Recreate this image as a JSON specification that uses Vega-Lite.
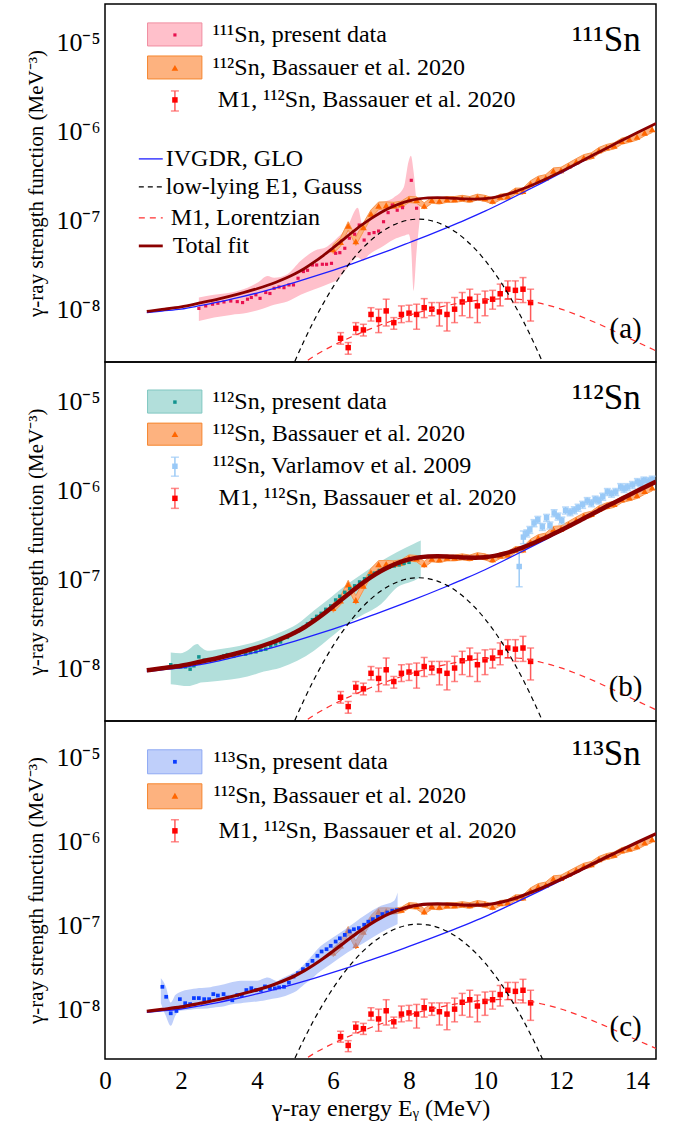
{
"$schema": "https://vega.github.io/schema/vega-lite/v6.json",
"padding": {"left": 24, "top": 2, "right": 22, "bottom": 0},
"background": "white",
"spacing": 0,
"bounds": "flush",
"config": {
  "font": "'Liberation Serif', 'Times New Roman', serif",
  "view": {"stroke": "black", "strokeWidth": 1.5},
  "axis": {"grid": false, "domain": false, "tickColor": "black", "tickWidth": 1, "labelColor": "black", "titleColor": "black", "titleFontWeight": "normal", "labelFont": "'Liberation Serif', 'Times New Roman', serif", "titleFont": "'Liberation Serif', 'Times New Roman', serif"},
  "text": {"font": "'Liberation Serif', 'Times New Roman', serif"}
},
"datasets": {
  "fit": [
    {"c":"glo","E":1.1,"v":9.33e-9},{"c":"glo","E":1.5,"v":9.73e-9},{"c":"glo","E":2,"v":1.023e-8},{"c":"glo","E":2.5,"v":1.117e-8},{"c":"glo","E":3,"v":1.23e-8},{"c":"glo","E":3.5,"v":1.374e-8},{"c":"glo","E":4,"v":1.549e-8},{"c":"glo","E":4.5,"v":1.77e-8},{"c":"glo","E":5,"v":2.042e-8},{"c":"glo","E":5.5,"v":2.377e-8},{"c":"glo","E":6,"v":2.786e-8},{"c":"glo","E":6.5,"v":3.296e-8},{"c":"glo","E":7,"v":3.936e-8},{"c":"glo","E":7.5,"v":4.71e-8},{"c":"glo","E":8,"v":5.689e-8},{"c":"glo","E":8.5,"v":6.887e-8},{"c":"glo","E":9,"v":8.414e-8},{"c":"glo","E":9.5,"v":1.035e-7},{"c":"glo","E":10,"v":1.288e-7},{"c":"glo","E":10.5,"v":1.633e-7},{"c":"glo","E":11,"v":2.089e-7},{"c":"glo","E":11.5,"v":2.679e-7},{"c":"glo","E":12,"v":3.467e-7},{"c":"glo","E":12.5,"v":4.508e-7},{"c":"glo","E":13,"v":5.888e-7},{"c":"glo","E":13.5,"v":7.586e-7},{"c":"glo","E":14,"v":9.772e-7},{"c":"glo","E":14.5,"v":1.245e-6},
    {"c":"gauss","E":4.9,"v":2.13e-9},{"c":"gauss","E":5.0,"v":2.67e-9},{"c":"gauss","E":5.25,"v":4.6e-9},{"c":"gauss","E":5.5,"v":7.59e-9},{"c":"gauss","E":5.75,"v":1.194e-8},{"c":"gauss","E":6.0,"v":1.807e-8},{"c":"gauss","E":6.25,"v":2.612e-8},{"c":"gauss","E":6.5,"v":3.614e-8},{"c":"gauss","E":6.75,"v":4.797e-8},{"c":"gauss","E":7.0,"v":6.081e-8},{"c":"gauss","E":7.25,"v":7.396e-8},{"c":"gauss","E":7.5,"v":8.61e-8},{"c":"gauss","E":7.75,"v":9.594e-8},{"c":"gauss","E":8.0,"v":1.0257e-7},{"c":"gauss","E":8.25,"v":1.0471e-7},{"c":"gauss","E":8.5,"v":1.0257e-7},{"c":"gauss","E":8.75,"v":9.594e-8},{"c":"gauss","E":9.0,"v":8.61e-8},{"c":"gauss","E":9.25,"v":7.396e-8},{"c":"gauss","E":9.5,"v":6.081e-8},{"c":"gauss","E":9.75,"v":4.797e-8},{"c":"gauss","E":10.0,"v":3.614e-8},{"c":"gauss","E":10.25,"v":2.612e-8},{"c":"gauss","E":10.5,"v":1.807e-8},{"c":"gauss","E":10.75,"v":1.194e-8},{"c":"gauss","E":11.0,"v":7.59e-9},{"c":"gauss","E":11.25,"v":4.6e-9},{"c":"gauss","E":11.5,"v":2.67e-9},{"c":"gauss","E":11.6,"v":2.13e-9},
    {"c":"m1","E":5.1,"v":2.3e-9},{"c":"m1","E":5.5,"v":3.02e-9},{"c":"m1","E":6,"v":3.98e-9},{"c":"m1","E":6.5,"v":5.01e-9},{"c":"m1","E":7,"v":6.17e-9},{"c":"m1","E":7.5,"v":7.41e-9},{"c":"m1","E":8,"v":8.71e-9},{"c":"m1","E":8.5,"v":1.0e-8},{"c":"m1","E":9,"v":1.122e-8},{"c":"m1","E":9.5,"v":1.23e-8},{"c":"m1","E":10,"v":1.303e-8},{"c":"m1","E":10.5,"v":1.334e-8},{"c":"m1","E":11,"v":1.303e-8},{"c":"m1","E":11.5,"v":1.175e-8},{"c":"m1","E":12,"v":1.023e-8},{"c":"m1","E":12.5,"v":8.51e-9},{"c":"m1","E":13,"v":6.92e-9},{"c":"m1","E":13.5,"v":5.5e-9},{"c":"m1","E":14,"v":4.37e-9},{"c":"m1","E":14.5,"v":3.47e-9},
    {"c":"total","E":1.1,"v":9.63e-9},{"c":"total","E":1.5,"v":1.013e-8},{"c":"total","E":2,"v":1.083e-8},{"c":"total","E":2.5,"v":1.197e-8},{"c":"total","E":3,"v":1.33e-8},{"c":"total","E":3.5,"v":1.504e-8},{"c":"total","E":4,"v":1.729e-8},{"c":"total","E":4.5,"v":2.049e-8},{"c":"total","E":5,"v":2.549e-8},{"c":"total","E":5.25,"v":2.923e-8},{"c":"total","E":5.5,"v":3.438e-8},{"c":"total","E":5.75,"v":4.111e-8},{"c":"total","E":6,"v":4.991e-8},{"c":"total","E":6.25,"v":6.086e-8},{"c":"total","E":6.5,"v":7.411e-8},{"c":"total","E":6.75,"v":8.95e-8},{"c":"total","E":7,"v":1.063e-7},{"c":"total","E":7.25,"v":1.238e-7},{"c":"total","E":7.5,"v":1.406e-7},{"c":"total","E":7.75,"v":1.557e-7},{"c":"total","E":8,"v":1.682e-7},{"c":"total","E":8.25,"v":1.766e-7},{"c":"total","E":8.5,"v":1.814e-7},{"c":"total","E":8.75,"v":1.826e-7},{"c":"total","E":9,"v":1.815e-7},{"c":"total","E":9.25,"v":1.79e-7},{"c":"total","E":9.5,"v":1.766e-7},{"c":"total","E":9.75,"v":1.76e-7},{"c":"total","E":10,"v":1.78e-7},{"c":"total","E":10.25,"v":1.842e-7},{"c":"total","E":10.5,"v":1.947e-7},{"c":"total","E":10.75,"v":2.097e-7},{"c":"total","E":11,"v":2.296e-7},{"c":"total","E":11.25,"v":2.537e-7},{"c":"total","E":11.5,"v":2.823e-7},{"c":"total","E":11.75,"v":3.172e-7},{"c":"total","E":12,"v":3.577e-7},{"c":"total","E":12.5,"v":4.593e-7},{"c":"total","E":13,"v":5.957e-7},{"c":"total","E":13.5,"v":7.641e-7},{"c":"total","E":14,"v":9.816e-7},{"c":"total","E":14.5,"v":1.248e-6}
  ],
  "bass": [
    {"E":6.0,"v":4.8e-8,"lo":4.3e-8,"hi":5.4e-8},{"E":6.2,"v":5.8e-8,"lo":5.2e-8,"hi":6.5e-8},{"E":6.4,"v":8.8e-8,"lo":7.9e-8,"hi":9.8e-8},{"E":6.6,"v":5.9e-8,"lo":5.3e-8,"hi":6.6e-8},{"E":6.8,"v":8.5e-8,"lo":7.6e-8,"hi":9.5e-8},{"E":7.0,"v":1.2e-7,"lo":1.08e-7,"hi":1.33e-7},{"E":7.2,"v":1.48e-7,"lo":1.34e-7,"hi":1.63e-7},{"E":7.4,"v":1.5e-7,"lo":1.37e-7,"hi":1.64e-7},{"E":7.6,"v":1.5e-7,"lo":1.38e-7,"hi":1.62e-7},{"E":7.8,"v":1.55e-7,"lo":1.43e-7,"hi":1.67e-7},{"E":8.0,"v":1.75e-7,"lo":1.61e-7,"hi":1.89e-7},{"E":8.2,"v":1.72e-7,"lo":1.58e-7,"hi":1.86e-7},{"E":8.4,"v":1.48e-7,"lo":1.37e-7,"hi":1.6e-7},{"E":8.6,"v":1.71e-7,"lo":1.58e-7,"hi":1.84e-7},{"E":8.8,"v":1.68e-7,"lo":1.55e-7,"hi":1.81e-7},{"E":9.0,"v":1.75e-7,"lo":1.62e-7,"hi":1.88e-7},{"E":9.2,"v":1.75e-7,"lo":1.62e-7,"hi":1.88e-7},{"E":9.4,"v":1.8e-7,"lo":1.66e-7,"hi":1.94e-7},{"E":9.6,"v":1.75e-7,"lo":1.62e-7,"hi":1.88e-7},{"E":9.8,"v":1.86e-7,"lo":1.72e-7,"hi":2.0e-7},{"E":10.0,"v":1.8e-7,"lo":1.66e-7,"hi":1.94e-7},{"E":10.2,"v":1.68e-7,"lo":1.55e-7,"hi":1.81e-7},{"E":10.4,"v":1.86e-7,"lo":1.72e-7,"hi":2.0e-7},{"E":10.6,"v":1.9e-7,"lo":1.75e-7,"hi":2.05e-7},{"E":10.8,"v":2.17e-7,"lo":2.0e-7,"hi":2.34e-7},{"E":11.0,"v":2.17e-7,"lo":2.0e-7,"hi":2.34e-7},{"E":11.2,"v":2.62e-7,"lo":2.41e-7,"hi":2.83e-7},{"E":11.4,"v":2.94e-7,"lo":2.7e-7,"hi":3.18e-7},{"E":11.6,"v":3.07e-7,"lo":2.82e-7,"hi":3.32e-7},{"E":11.8,"v":3.65e-7,"lo":3.36e-7,"hi":3.94e-7},{"E":12.0,"v":3.71e-7,"lo":3.41e-7,"hi":4.01e-7},{"E":12.2,"v":4.15e-7,"lo":3.82e-7,"hi":4.48e-7},{"E":12.4,"v":4.64e-7,"lo":4.27e-7,"hi":5.01e-7},{"E":12.6,"v":5.15e-7,"lo":4.74e-7,"hi":5.56e-7},{"E":12.8,"v":5.4e-7,"lo":4.97e-7,"hi":5.83e-7},{"E":13.0,"v":6.2e-7,"lo":5.7e-7,"hi":6.7e-7},{"E":13.2,"v":6.7e-7,"lo":6.16e-7,"hi":7.24e-7},{"E":13.4,"v":7.0e-7,"lo":6.44e-7,"hi":7.56e-7},{"E":13.6,"v":7.9e-7,"lo":7.27e-7,"hi":8.53e-7},{"E":13.8,"v":8.3e-7,"lo":7.64e-7,"hi":8.96e-7},{"E":14.0,"v":8.8e-7,"lo":8.1e-7,"hi":9.5e-7},{"E":14.2,"v":9.8e-7,"lo":9.02e-7,"hi":1.058e-6},{"E":14.4,"v":1.07e-6,"lo":9.84e-7,"hi":1.156e-6}
  ],
  "m1": [
    {"E":6.2,"v":4.8e-9,"lo":4.12e-9,"hi":5.56e-9},{"E":6.4,"v":3.77e-9,"lo":3.18e-9,"hi":4.3e-9},{"E":6.6,"v":6.2e-9,"lo":5.3e-9,"hi":7.2e-9},{"E":6.8,"v":5.96e-9,"lo":5.1e-9,"hi":6.9e-9},{"E":7.0,"v":8.9e-9,"lo":7.5e-9,"hi":1.06e-8},{"E":7.2,"v":7.8e-9,"lo":5.56e-9,"hi":1.02e-8},{"E":7.4,"v":9.75e-9,"lo":6.6e-9,"hi":1.32e-8},{"E":7.6,"v":7.2e-9,"lo":6.07e-9,"hi":8.2e-9},{"E":7.8,"v":8.9e-9,"lo":7.2e-9,"hi":1.11e-8},{"E":8.0,"v":9.2e-9,"lo":7.4e-9,"hi":1.13e-8},{"E":8.2,"v":8.9e-9,"lo":6.07e-9,"hi":1.16e-8},{"E":8.4,"v":1.06e-8,"lo":8.2e-9,"hi":1.34e-8},{"E":8.6,"v":1.02e-8,"lo":8.6e-9,"hi":1.21e-8},{"E":8.8,"v":9.5e-9,"lo":6.6e-9,"hi":1.21e-8},{"E":9.0,"v":8.9e-9,"lo":5.8e-9,"hi":1.21e-8},{"E":9.2,"v":1.02e-8,"lo":7.2e-9,"hi":1.38e-8},{"E":9.4,"v":1.23e-8,"lo":8.6e-9,"hi":1.57e-8},{"E":9.6,"v":1.32e-8,"lo":8.2e-9,"hi":1.71e-8},{"E":9.8,"v":1.11e-8,"lo":7.2e-9,"hi":1.5e-8},{"E":10.0,"v":1.26e-8,"lo":8.6e-9,"hi":1.63e-8},{"E":10.2,"v":1.32e-8,"lo":1.02e-8,"hi":1.66e-8},{"E":10.4,"v":1.52e-8,"lo":1.11e-8,"hi":1.95e-8},{"E":10.6,"v":1.71e-8,"lo":1.32e-8,"hi":2.12e-8},{"E":10.8,"v":1.66e-8,"lo":1.21e-8,"hi":2.12e-8},{"E":11.0,"v":1.71e-8,"lo":1.21e-8,"hi":2.31e-8},{"E":11.2,"v":1.21e-8,"lo":7.5e-9,"hi":1.71e-8}
  ],
  "p111": [
    {"E":2.47,"v":1.04e-8},{"E":2.65,"v":1.11e-8},{"E":2.83,"v":1.16e-8},{"E":2.97,"v":1.19e-8},{"E":3.13,"v":1.23e-8},{"E":3.31,"v":1.26e-8},{"E":3.48,"v":1.24e-8},{"E":3.62,"v":1.21e-8},{"E":3.75,"v":1.32e-8},{"E":3.85,"v":1.38e-8},{"E":3.97,"v":1.48e-8},{"E":4.08,"v":1.35e-8},{"E":4.23,"v":1.57e-8},{"E":4.34,"v":1.53e-8},{"E":4.45,"v":1.75e-8},{"E":4.58,"v":1.81e-8},{"E":4.71,"v":1.78e-8},{"E":4.84,"v":1.91e-8},{"E":4.96,"v":1.91e-8},{"E":5.08,"v":2.27e-8},{"E":5.22,"v":2.7e-8},{"E":5.33,"v":2.79e-8},{"E":5.46,"v":3.2e-8},{"E":5.57,"v":3.2e-8},{"E":5.72,"v":3.26e-8},{"E":5.83,"v":3.26e-8},{"E":5.96,"v":3.34e-8},{"E":6.07,"v":4.33e-8},{"E":6.18,"v":4.4e-8},{"E":6.31,"v":4.93e-8},{"E":6.43,"v":6.4e-8},{"E":6.57,"v":7.1e-8},{"E":6.69,"v":9.0e-8},{"E":6.82,"v":6.1e-8},{"E":6.95,"v":7.2e-8},{"E":7.08,"v":7.4e-8},{"E":7.2,"v":7.7e-8},{"E":7.33,"v":9.8e-8},{"E":7.45,"v":1.24e-7},{"E":7.56,"v":1.51e-7},{"E":7.69,"v":1.32e-7},{"E":7.83,"v":1.41e-7},{"E":8.06,"v":2.86e-7},{"E":8.2,"v":1.39e-7}
  ],
  "b111": [
    {"E":2.47,"lo":7.5e-9,"hi":1.38e-8},{"E":2.87,"lo":8.2e-9,"hi":1.48e-8},{"E":3.31,"lo":8.8e-9,"hi":1.57e-8},{"E":3.75,"lo":9.3e-9,"hi":1.78e-8},{"E":4.02,"lo":9.9e-9,"hi":2.03e-8},{"E":4.28,"lo":1.08e-8,"hi":2.41e-8},{"E":4.45,"lo":1.14e-8,"hi":2.3e-8},{"E":4.8,"lo":1.24e-8,"hi":2.52e-8},{"E":5.15,"lo":1.48e-8,"hi":3.56e-8},{"E":5.5,"lo":1.7e-8,"hi":4.6e-8},{"E":5.86,"lo":1.95e-8,"hi":5.2e-8},{"E":6.12,"lo":2.2e-8,"hi":6.5e-8},{"E":6.39,"lo":3.0e-8,"hi":8.8e-8},{"E":6.65,"lo":3.9e-8,"hi":1.41e-7},{"E":6.78,"lo":3.56e-8,"hi":9.2e-8},{"E":6.95,"lo":4.2e-8,"hi":1.14e-7},{"E":7.25,"lo":5.0e-8,"hi":1.54e-7},{"E":7.6,"lo":6.2e-8,"hi":1.83e-7},{"E":7.86,"lo":6.8e-8,"hi":2.37e-7},{"E":7.99,"lo":7.1e-8,"hi":4.7e-7},{"E":8.05,"lo":5.5e-8,"hi":5.4e-7},{"E":8.12,"lo":1.63e-8,"hi":3.6e-7},{"E":8.2,"lo":4.6e-8,"hi":1.75e-7},{"E":8.29,"lo":1.09e-7,"hi":1.54e-7}
  ],
  "p112": [
    {"E":1.73,"v":1.11e-8},{"E":1.86,"v":1.07e-8},{"E":1.99,"v":1.05e-8},{"E":2.12,"v":1.05e-8},{"E":2.24,"v":9.9e-9},{"E":2.34,"v":1.08e-8},{"E":2.47,"v":1.36e-8},{"E":2.61,"v":1.25e-8},{"E":2.74,"v":1.24e-8},{"E":2.87,"v":1.27e-8},{"E":3.0,"v":1.32e-8},{"E":3.13,"v":1.4e-8},{"E":3.22,"v":1.44e-8},{"E":3.39,"v":1.38e-8},{"E":3.53,"v":1.46e-8},{"E":3.7,"v":1.46e-8},{"E":3.83,"v":1.52e-8},{"E":3.97,"v":1.55e-8},{"E":4.1,"v":1.62e-8},{"E":4.23,"v":1.66e-8},{"E":4.36,"v":1.8e-8},{"E":4.49,"v":1.9e-8},{"E":4.62,"v":2.0e-8},{"E":4.8,"v":2.25e-8},{"E":4.96,"v":2.5e-8},{"E":5.09,"v":2.67e-8},{"E":5.22,"v":2.91e-8},{"E":5.33,"v":3.18e-8},{"E":5.46,"v":3.55e-8},{"E":5.57,"v":3.87e-8},{"E":5.69,"v":4.18e-8},{"E":5.81,"v":4.64e-8},{"E":5.94,"v":5.06e-8},{"E":6.07,"v":5.9e-8},{"E":6.18,"v":6.5e-8},{"E":6.31,"v":7.2e-8},{"E":6.44,"v":7.9e-8},{"E":6.57,"v":8.5e-8},{"E":6.7,"v":9.4e-8},{"E":6.83,"v":1.02e-7},{"E":6.96,"v":1.1e-7},{"E":7.09,"v":1.18e-7},{"E":7.22,"v":1.26e-7},{"E":7.35,"v":1.32e-7},{"E":7.48,"v":1.38e-7},{"E":7.61,"v":1.42e-7},{"E":7.74,"v":1.46e-7},{"E":7.87,"v":1.52e-7},{"E":8.0,"v":1.56e-7}
  ],
  "b112": [
    {"E":1.73,"lo":6.7e-9,"hi":1.52e-8},{"E":1.99,"lo":6.5e-9,"hi":1.49e-8},{"E":2.17,"lo":6.4e-9,"hi":1.6e-8},{"E":2.43,"lo":6.8e-9,"hi":1.89e-8},{"E":2.52,"lo":7.0e-9,"hi":1.75e-8},{"E":2.69,"lo":7.1e-9,"hi":1.59e-8},{"E":2.96,"lo":7.3e-9,"hi":1.65e-8},{"E":3.31,"lo":7.6e-9,"hi":1.73e-8},{"E":3.75,"lo":8.2e-9,"hi":1.89e-8},{"E":4.18,"lo":9.3e-9,"hi":2.15e-8},{"E":4.62,"lo":1.03e-8,"hi":2.56e-8},{"E":5.06,"lo":1.23e-8,"hi":3.18e-8},{"E":5.5,"lo":1.59e-8,"hi":4.5e-8},{"E":5.94,"lo":2.25e-8,"hi":6.3e-8},{"E":6.38,"lo":3.18e-8,"hi":8.9e-8},{"E":6.82,"lo":4.1e-8,"hi":1.2e-7},{"E":7.26,"lo":5.3e-8,"hi":1.6e-7},{"E":7.69,"lo":8.2e-8,"hi":2.03e-7},{"E":8.13,"lo":9.7e-8,"hi":2.52e-7},{"E":8.31,"lo":1.06e-7,"hi":2.74e-7}
  ],
  "varl": [
    {"E":10.9,"v":1.4e-7,"lo":8.3e-8,"hi":2.08e-7},{"E":11.01,"v":2.99e-7,"lo":2.52e-7,"hi":3.5e-7},{"E":11.1,"v":3.3e-7,"lo":3.0e-7,"hi":3.6e-7},{"E":11.18,"v":3.61e-7,"lo":3.29e-7,"hi":3.93e-7},{"E":11.29,"v":4.3e-7,"lo":3.91e-7,"hi":4.69e-7},{"E":11.39,"v":4.68e-7,"lo":4.26e-7,"hi":5.1e-7},{"E":11.51,"v":3.9e-7,"lo":3.55e-7,"hi":4.25e-7},{"E":11.62,"v":4.93e-7,"lo":4.49e-7,"hi":5.37e-7},{"E":11.71,"v":4.05e-7,"lo":3.69e-7,"hi":4.41e-7},{"E":11.82,"v":5.56e-7,"lo":5.06e-7,"hi":6.06e-7},{"E":11.92,"v":5.1e-7,"lo":4.64e-7,"hi":5.56e-7},{"E":12.02,"v":4.6e-7,"lo":4.19e-7,"hi":5.01e-7},{"E":12.12,"v":5.96e-7,"lo":5.42e-7,"hi":6.5e-7},{"E":12.24,"v":5.7e-7,"lo":5.19e-7,"hi":6.21e-7},{"E":12.35,"v":6.0e-7,"lo":5.46e-7,"hi":6.54e-7},{"E":12.45,"v":6.4e-7,"lo":5.82e-7,"hi":6.98e-7},{"E":12.57,"v":6.9e-7,"lo":6.28e-7,"hi":7.52e-7},{"E":12.69,"v":7.6e-7,"lo":6.92e-7,"hi":8.28e-7},{"E":12.8,"v":7.2e-7,"lo":6.55e-7,"hi":7.85e-7},{"E":12.9,"v":7.9e-7,"lo":7.19e-7,"hi":8.61e-7},{"E":13.0,"v":7.7e-7,"lo":7.01e-7,"hi":8.39e-7},{"E":13.1,"v":8.5e-7,"lo":7.74e-7,"hi":9.27e-7},{"E":13.22,"v":9.6e-7,"lo":8.74e-7,"hi":1.046e-6},{"E":13.33,"v":9.2e-7,"lo":8.37e-7,"hi":1.003e-6},{"E":13.44,"v":9.6e-7,"lo":8.74e-7,"hi":1.046e-6},{"E":13.57,"v":1.09e-6,"lo":9.92e-7,"hi":1.188e-6},{"E":13.66,"v":1.04e-6,"lo":9.46e-7,"hi":1.134e-6},{"E":13.75,"v":1.09e-6,"lo":9.92e-7,"hi":1.188e-6},{"E":13.88,"v":1.15e-6,"lo":1.047e-6,"hi":1.254e-6},{"E":14.01,"v":1.24e-6,"lo":1.128e-6,"hi":1.352e-6},{"E":14.1,"v":1.2e-6,"lo":1.092e-6,"hi":1.308e-6},{"E":14.18,"v":1.29e-6,"lo":1.174e-6,"hi":1.406e-6},{"E":14.3,"v":1.27e-6,"lo":1.156e-6,"hi":1.384e-6},{"E":14.4,"v":1.32e-6,"lo":1.201e-6,"hi":1.439e-6}
  ],
  "p113": [
    {"E":1.51,"v":1.88e-8},{"E":1.61,"v":1.43e-8},{"E":1.73,"v":9.1e-9},{"E":1.88,"v":9.7e-9},{"E":1.97,"v":1.34e-8},{"E":2.11,"v":1.2e-8},{"E":2.24,"v":1.17e-8},{"E":2.34,"v":1.38e-8},{"E":2.47,"v":1.38e-8},{"E":2.61,"v":1.34e-8},{"E":2.74,"v":1.34e-8},{"E":2.85,"v":1.54e-8},{"E":2.97,"v":1.48e-8},{"E":3.12,"v":1.54e-8},{"E":3.22,"v":1.4e-8},{"E":3.35,"v":1.3e-8},{"E":3.48,"v":1.5e-8},{"E":3.6,"v":1.5e-8},{"E":3.72,"v":1.72e-8},{"E":3.85,"v":1.81e-8},{"E":3.97,"v":1.72e-8},{"E":4.1,"v":1.72e-8},{"E":4.21,"v":1.9e-8},{"E":4.34,"v":1.8e-8},{"E":4.47,"v":1.8e-8},{"E":4.58,"v":1.85e-8},{"E":4.71,"v":1.88e-8},{"E":4.84,"v":2.11e-8},{"E":4.96,"v":2.49e-8},{"E":5.08,"v":2.73e-8},{"E":5.21,"v":3.05e-8},{"E":5.33,"v":3.43e-8},{"E":5.46,"v":3.83e-8},{"E":5.59,"v":4.4e-8},{"E":5.7,"v":4.95e-8},{"E":5.83,"v":5.27e-8},{"E":5.94,"v":5.78e-8},{"E":6.07,"v":6.5e-8},{"E":6.18,"v":7.1e-8},{"E":6.31,"v":7.8e-8},{"E":6.44,"v":8.6e-8},{"E":6.55,"v":9.1e-8},{"E":6.68,"v":9.4e-8},{"E":6.82,"v":1.03e-7},{"E":6.93,"v":1.12e-7},{"E":7.05,"v":1.2e-7},{"E":7.18,"v":1.28e-7},{"E":7.3,"v":1.38e-7},{"E":7.43,"v":1.44e-7},{"E":7.56,"v":1.51e-7},{"E":7.68,"v":1.54e-7}
  ],
  "b113": [
    {"E":1.47,"lo":1.2e-8,"hi":2.38e-8},{"E":1.6,"lo":8.5e-9,"hi":1.9e-8},{"E":1.73,"lo":6.45e-9,"hi":1.22e-8},{"E":1.85,"lo":8.5e-9,"hi":1.5e-8},{"E":1.95,"lo":9.7e-9,"hi":1.61e-8},{"E":2.26,"lo":1.0e-8,"hi":1.76e-8},{"E":2.4,"lo":1.02e-8,"hi":1.8e-8},{"E":2.7,"lo":1.04e-8,"hi":1.84e-8},{"E":2.84,"lo":1.06e-8,"hi":1.9e-8},{"E":3.14,"lo":1.1e-8,"hi":2.02e-8},{"E":3.28,"lo":1.15e-8,"hi":2.1e-8},{"E":3.58,"lo":1.2e-8,"hi":2.22e-8},{"E":3.72,"lo":1.22e-8,"hi":2.22e-8},{"E":4.01,"lo":1.26e-8,"hi":2.22e-8},{"E":4.16,"lo":1.28e-8,"hi":2.35e-8},{"E":4.28,"lo":1.32e-8,"hi":2.43e-8},{"E":4.54,"lo":1.38e-8,"hi":2.2e-8},{"E":4.6,"lo":1.4e-8,"hi":2.3e-8},{"E":4.89,"lo":1.55e-8,"hi":2.66e-8},{"E":5.04,"lo":1.68e-8,"hi":2.9e-8},{"E":5.24,"lo":2.0e-8,"hi":3.5e-8},{"E":5.48,"lo":2.43e-8,"hi":4.6e-8},{"E":5.59,"lo":2.7e-8,"hi":5.27e-8},{"E":5.94,"lo":3.5e-8,"hi":6.95e-8},{"E":6.38,"lo":4.8e-8,"hi":9.5e-8},{"E":6.82,"lo":6.3e-8,"hi":1.32e-7},{"E":7.26,"lo":8.3e-8,"hi":1.73e-7},{"E":7.61,"lo":1.0e-7,"hi":1.99e-7},{"E":7.7,"lo":1.05e-7,"hi":2.49e-7}
  ]
},
"vconcat": [
{
  "width": 551, "height": 358,
  "layer": [
    {"data": {"name": "b111"}, "mark": {"type": "area", "fill": "#ffc0cb", "interpolate": "monotone", "clip": true},
     "encoding": {
       "x": {"field": "E", "type": "quantitative", "scale": {"domain": [0, 14.5], "nice": false, "zero": false},
             "axis": {"values": [0,0.5,1,1.5,2,2.5,3,3.5,4,4.5,5,5.5,6,6.5,7,7.5,8,8.5,9,9.5,10,10.5,11,11.5,12,12.5,13,13.5,14], "labels": false, "title": null, "tickSize": 0,
                      "encode": {"ticks": {"update": {"y2": {"signal": "datum.value % 2 == 0 ? -13 : -7"}}}}}},
       "y": {"field": "lo", "type": "quantitative", "scale": {"type": "log", "domain": [2.6e-9, 2.74e-5], "nice": false},
             "axis": {"title": "γ-ray strength function (MeV⁻³)", "titleFontSize": 21, "titleX": -69, "titleBaseline": "middle",
                      "values": [3e-9,4e-9,5e-9,6e-9,7e-9,8e-9,9e-9,1e-8,2e-8,3e-8,4e-8,5e-8,6e-8,7e-8,8e-8,9e-8,1e-7,2e-7,3e-7,4e-7,5e-7,6e-7,7e-7,8e-7,9e-7,1e-6,2e-6,3e-6,4e-6,5e-6,6e-6,7e-6,8e-6,9e-6,1e-5,2e-5],
                      "labelExpr": "abs(log(datum.value)/LN10 - round(log(datum.value)/LN10)) < 0.01 ? (round(log(datum.value)/LN10) == -5 ? '10⁻⁵' : round(log(datum.value)/LN10) == -6 ? '10⁻⁶' : round(log(datum.value)/LN10) == -7 ? '10⁻⁷' : '10⁻⁸') : ''",
                      "labelFontSize": 26, "labelPadding": 5, "labelOverlap": false, "tickSize": 0,
                      "encode": {"ticks": {"update": {"x2": {"signal": "abs(log(datum.value)/LN10 - round(log(datum.value)/LN10)) < 0.01 ? 13 : 7"}}}}}},
       "y2": {"field": "hi"}
     }},
    {"data": {"name": "bass"}, "mark": {"type": "area", "fill": "#fdb27f", "stroke": "#f7964f", "strokeWidth": 1, "clip": true},
     "encoding": {"x": {"field": "E", "type": "quantitative"}, "y": {"field": "lo", "type": "quantitative"}, "y2": {"field": "hi"}}},
    {"data": {"name": "bass"}, "mark": {"type": "point", "shape": "triangle-up", "filled": true, "color": "#ff6600", "size": 45, "opacity": 1, "clip": true},
     "encoding": {"x": {"field": "E", "type": "quantitative"}, "y": {"field": "v", "type": "quantitative"}}},
    {"data": {"name": "p111"}, "mark": {"type": "point", "shape": "square", "filled": true, "color": "#e8114f", "size": 10, "opacity": 1, "clip": true},
     "encoding": {"x": {"field": "E", "type": "quantitative"}, "y": {"field": "v", "type": "quantitative"}}},
    {"data": {"name": "m1"}, "mark": {"type": "rule", "color": "#ff5a5a", "strokeWidth": 1.5, "clip": true},
     "encoding": {"x": {"field": "E", "type": "quantitative"}, "y": {"field": "lo", "type": "quantitative"}, "y2": {"field": "hi"}}},
    {"data": {"name": "m1"}, "mark": {"type": "tick", "orient": "horizontal", "color": "#ff5a5a", "size": 7, "thickness": 1.5, "clip": true},
     "encoding": {"x": {"field": "E", "type": "quantitative"}, "y": {"field": "lo", "type": "quantitative"}}},
    {"data": {"name": "m1"}, "mark": {"type": "tick", "orient": "horizontal", "color": "#ff5a5a", "size": 7, "thickness": 1.5, "clip": true},
     "encoding": {"x": {"field": "E", "type": "quantitative"}, "y": {"field": "hi", "type": "quantitative"}}},
    {"data": {"name": "m1"}, "mark": {"type": "point", "shape": "square", "filled": true, "color": "#ff0000", "size": 30, "opacity": 1, "clip": true},
     "encoding": {"x": {"field": "E", "type": "quantitative"}, "y": {"field": "v", "type": "quantitative"}}},
    {"data": {"name": "fit"}, "transform": [{"filter": "datum.c == 'glo'"}], "mark": {"type": "line", "color": "#1e1eff", "strokeWidth": 1.3, "interpolate": "monotone", "clip": true},
     "encoding": {"x": {"field": "E", "type": "quantitative"}, "y": {"field": "v", "type": "quantitative"}}},
    {"data": {"name": "fit"}, "transform": [{"filter": "datum.c == 'gauss'"}], "mark": {"type": "line", "color": "black", "strokeWidth": 1.2, "strokeDash": [5, 4], "interpolate": "monotone", "clip": true},
     "encoding": {"x": {"field": "E", "type": "quantitative"}, "y": {"field": "v", "type": "quantitative"}}},
    {"data": {"name": "fit"}, "transform": [{"filter": "datum.c == 'm1'"}], "mark": {"type": "line", "color": "#ff3030", "strokeWidth": 1.2, "strokeDash": [6, 5], "interpolate": "monotone", "clip": true},
     "encoding": {"x": {"field": "E", "type": "quantitative"}, "y": {"field": "v", "type": "quantitative"}}},
    {"data": {"name": "fit"}, "transform": [{"filter": "datum.c == 'total'"}], "mark": {"type": "line", "color": "#8b0000", "strokeWidth": 2.8, "interpolate": "monotone", "clip": true},
     "encoding": {"x": {"field": "E", "type": "quantitative"}, "y": {"field": "v", "type": "quantitative"}}},
    {"data": {"values": [{}]}, "mark": {"type": "rect", "fill": "#ffc0cb", "stroke": "#f08ca0", "strokeWidth": 1},
     "encoding": {"x": {"datum": 1.12, "type": "quantitative"}, "x2": {"datum": 2.55}, "y": {"datum": 1.68e-5, "type": "quantitative"}, "y2": {"datum": 9.25e-6}}},
    {"data": {"values": [{}]}, "mark": {"type": "point", "shape": "square", "filled": true, "color": "#e8114f", "size": 10, "opacity": 1},
     "encoding": {"x": {"datum": 1.84, "type": "quantitative"}, "y": {"datum": 1.23e-5, "type": "quantitative"}}},
    {"data": {"values": [{}]}, "mark": {"type": "rect", "fill": "#fdb27f", "stroke": "#f5862f", "strokeWidth": 1},
     "encoding": {"x": {"datum": 1.12, "type": "quantitative"}, "x2": {"datum": 2.55}, "y": {"datum": 7.14e-6, "type": "quantitative"}, "y2": {"datum": 3.94e-6}}},
    {"data": {"values": [{}]}, "mark": {"type": "point", "shape": "triangle-up", "filled": true, "color": "#ff6600", "size": 45, "opacity": 1},
     "encoding": {"x": {"datum": 1.84, "type": "quantitative"}, "y": {"datum": 5.24e-6, "type": "quantitative"}}},
    {"data": {"values": [{}]}, "mark": {"type": "rule", "color": "#ff5a5a", "strokeWidth": 1.5},
     "encoding": {"x": {"datum": 1.84, "type": "quantitative"}, "y": {"datum": 2.89e-6, "type": "quantitative"}, "y2": {"datum": 1.72e-6}}},
    {"data": {"values": [{}]}, "mark": {"type": "tick", "orient": "horizontal", "color": "#ff5a5a", "size": 8, "thickness": 1.5},
     "encoding": {"x": {"datum": 1.84, "type": "quantitative"}, "y": {"datum": 2.89e-6, "type": "quantitative"}}},
    {"data": {"values": [{}]}, "mark": {"type": "tick", "orient": "horizontal", "color": "#ff5a5a", "size": 8, "thickness": 1.5},
     "encoding": {"x": {"datum": 1.84, "type": "quantitative"}, "y": {"datum": 1.72e-6, "type": "quantitative"}}},
    {"data": {"values": [{}]}, "mark": {"type": "point", "shape": "square", "filled": true, "color": "#ff0000", "size": 30, "opacity": 1},
     "encoding": {"x": {"datum": 1.84, "type": "quantitative"}, "y": {"datum": 2.29e-6, "type": "quantitative"}}},
    {"data": {"values": [{}]}, "mark": {"type": "text", "align": "left", "baseline": "middle", "fontSize": 24, "text": "¹¹¹Sn, present data"},
     "encoding": {"x": {"datum": 2.834, "type": "quantitative"}, "y": {"datum": 1.23e-5, "type": "quantitative"}}},
    {"data": {"values": [{}]}, "mark": {"type": "text", "align": "left", "baseline": "middle", "fontSize": 24, "text": "¹¹²Sn, Bassauer et al. 2020"},
     "encoding": {"x": {"datum": 2.834, "type": "quantitative"}, "y": {"datum": 5.24e-6, "type": "quantitative"}}},
    {"data": {"values": [{}]}, "mark": {"type": "text", "align": "left", "baseline": "middle", "fontSize": 24, "text": "M1, ¹¹²Sn, Bassauer et al. 2020"},
     "encoding": {"x": {"datum": 2.97, "type": "quantitative"}, "y": {"datum": 2.29e-6, "type": "quantitative"}}},
    {"data": {"values": [{}]}, "mark": {"type": "rule", "color": "#1e1eff", "strokeWidth": 1.3},
     "encoding": {"x": {"datum": 0.89, "type": "quantitative"}, "x2": {"datum": 1.52}, "y": {"datum": 4.98e-7, "type": "quantitative"}}},
    {"data": {"values": [{}]}, "mark": {"type": "rule", "color": "black", "strokeWidth": 1.2, "strokeDash": [5, 4]},
     "encoding": {"x": {"datum": 0.89, "type": "quantitative"}, "x2": {"datum": 1.52}, "y": {"datum": 2.41e-7, "type": "quantitative"}}},
    {"data": {"values": [{}]}, "mark": {"type": "rule", "color": "#ff3030", "strokeWidth": 1.2, "strokeDash": [6, 5]},
     "encoding": {"x": {"datum": 0.89, "type": "quantitative"}, "x2": {"datum": 1.52}, "y": {"datum": 1.08e-7, "type": "quantitative"}}},
    {"data": {"values": [{}]}, "mark": {"type": "rule", "color": "#8b0000", "strokeWidth": 2.8},
     "encoding": {"x": {"datum": 0.89, "type": "quantitative"}, "x2": {"datum": 1.52}, "y": {"datum": 5.24e-8, "type": "quantitative"}}},
    {"data": {"values": [{}]}, "mark": {"type": "text", "align": "left", "baseline": "middle", "fontSize": 24, "text": "IVGDR, GLO"},
     "encoding": {"x": {"datum": 1.6, "type": "quantitative"}, "y": {"datum": 4.98e-7, "type": "quantitative"}}},
    {"data": {"values": [{}]}, "mark": {"type": "text", "align": "left", "baseline": "middle", "fontSize": 24, "text": "low-lying E1, Gauss"},
     "encoding": {"x": {"datum": 1.6, "type": "quantitative"}, "y": {"datum": 2.41e-7, "type": "quantitative"}}},
    {"data": {"values": [{}]}, "mark": {"type": "text", "align": "left", "baseline": "middle", "fontSize": 24, "text": "M1, Lorentzian"},
     "encoding": {"x": {"datum": 1.73, "type": "quantitative"}, "y": {"datum": 1.08e-7, "type": "quantitative"}}},
    {"data": {"values": [{}]}, "mark": {"type": "text", "align": "left", "baseline": "middle", "fontSize": 24, "text": "Total fit"},
     "encoding": {"x": {"datum": 1.78, "type": "quantitative"}, "y": {"datum": 5.24e-8, "type": "quantitative"}}},
    {"data": {"values": [{}]}, "mark": {"type": "text", "align": "right", "baseline": "alphabetic", "fontSize": 35, "text": "¹¹¹Sn"},
     "encoding": {"x": {"datum": 14.1, "type": "quantitative"}, "y": {"datum": 8.1e-6, "type": "quantitative"}}},
    {"data": {"values": [{}]}, "mark": {"type": "text", "align": "center", "baseline": "alphabetic", "fontSize": 29, "text": "(a)"},
     "encoding": {"x": {"datum": 13.7, "type": "quantitative"}, "y": {"datum": 4.9e-9, "type": "quantitative"}}}
  ]
},
{
  "width": 551, "height": 359,
  "layer": [
    {"data": {"name": "b112"}, "mark": {"type": "area", "fill": "#b2dfdb", "interpolate": "monotone", "clip": true},
     "encoding": {
       "x": {"field": "E", "type": "quantitative", "scale": {"domain": [0, 14.5], "nice": false, "zero": false},
             "axis": {"values": [0,0.5,1,1.5,2,2.5,3,3.5,4,4.5,5,5.5,6,6.5,7,7.5,8,8.5,9,9.5,10,10.5,11,11.5,12,12.5,13,13.5,14], "labels": false, "title": null, "tickSize": 0,
                      "encode": {"ticks": {"update": {"y2": {"signal": "datum.value % 2 == 0 ? -13 : -7"}}}}}},
       "y": {"field": "lo", "type": "quantitative", "scale": {"type": "log", "domain": [2.6e-9, 2.74e-5], "nice": false},
             "axis": {"title": "γ-ray strength function (MeV⁻³)", "titleFontSize": 21, "titleX": -69, "titleBaseline": "middle",
                      "values": [3e-9,4e-9,5e-9,6e-9,7e-9,8e-9,9e-9,1e-8,2e-8,3e-8,4e-8,5e-8,6e-8,7e-8,8e-8,9e-8,1e-7,2e-7,3e-7,4e-7,5e-7,6e-7,7e-7,8e-7,9e-7,1e-6,2e-6,3e-6,4e-6,5e-6,6e-6,7e-6,8e-6,9e-6,1e-5,2e-5],
                      "labelExpr": "abs(log(datum.value)/LN10 - round(log(datum.value)/LN10)) < 0.01 ? (round(log(datum.value)/LN10) == -5 ? '10⁻⁵' : round(log(datum.value)/LN10) == -6 ? '10⁻⁶' : round(log(datum.value)/LN10) == -7 ? '10⁻⁷' : '10⁻⁸') : ''",
                      "labelFontSize": 26, "labelPadding": 5, "labelOverlap": false, "tickSize": 0,
                      "encode": {"ticks": {"update": {"x2": {"signal": "abs(log(datum.value)/LN10 - round(log(datum.value)/LN10)) < 0.01 ? 13 : 7"}}}}}},
       "y2": {"field": "hi"}
     }},
    {"data": {"name": "bass"}, "mark": {"type": "area", "fill": "#fdb27f", "stroke": "#f7964f", "strokeWidth": 1, "clip": true},
     "encoding": {"x": {"field": "E", "type": "quantitative"}, "y": {"field": "lo", "type": "quantitative"}, "y2": {"field": "hi"}}},
    {"data": {"name": "bass"}, "mark": {"type": "point", "shape": "triangle-up", "filled": true, "color": "#ff6600", "size": 45, "opacity": 1, "clip": true},
     "encoding": {"x": {"field": "E", "type": "quantitative"}, "y": {"field": "v", "type": "quantitative"}}},
    {"data": {"name": "p112"}, "mark": {"type": "point", "shape": "square", "filled": true, "color": "#12938f", "size": 12, "opacity": 1, "clip": true},
     "encoding": {"x": {"field": "E", "type": "quantitative"}, "y": {"field": "v", "type": "quantitative"}}},
    {"data": {"name": "varl"}, "mark": {"type": "rule", "color": "#9ccbf6", "strokeWidth": 1.5, "clip": true},
     "encoding": {"x": {"field": "E", "type": "quantitative"}, "y": {"field": "lo", "type": "quantitative"}, "y2": {"field": "hi"}}},
    {"data": {"name": "varl"}, "mark": {"type": "tick", "orient": "horizontal", "color": "#9ccbf6", "size": 7, "thickness": 1.5, "clip": true},
     "encoding": {"x": {"field": "E", "type": "quantitative"}, "y": {"field": "lo", "type": "quantitative"}}},
    {"data": {"name": "varl"}, "mark": {"type": "tick", "orient": "horizontal", "color": "#9ccbf6", "size": 7, "thickness": 1.5, "clip": true},
     "encoding": {"x": {"field": "E", "type": "quantitative"}, "y": {"field": "hi", "type": "quantitative"}}},
    {"data": {"name": "varl"}, "mark": {"type": "point", "shape": "square", "filled": true, "color": "#99c9f7", "size": 30, "opacity": 1, "clip": true},
     "encoding": {"x": {"field": "E", "type": "quantitative"}, "y": {"field": "v", "type": "quantitative"}}},
    {"data": {"name": "m1"}, "mark": {"type": "rule", "color": "#ff5a5a", "strokeWidth": 1.5, "clip": true},
     "encoding": {"x": {"field": "E", "type": "quantitative"}, "y": {"field": "lo", "type": "quantitative"}, "y2": {"field": "hi"}}},
    {"data": {"name": "m1"}, "mark": {"type": "tick", "orient": "horizontal", "color": "#ff5a5a", "size": 7, "thickness": 1.5, "clip": true},
     "encoding": {"x": {"field": "E", "type": "quantitative"}, "y": {"field": "lo", "type": "quantitative"}}},
    {"data": {"name": "m1"}, "mark": {"type": "tick", "orient": "horizontal", "color": "#ff5a5a", "size": 7, "thickness": 1.5, "clip": true},
     "encoding": {"x": {"field": "E", "type": "quantitative"}, "y": {"field": "hi", "type": "quantitative"}}},
    {"data": {"name": "m1"}, "mark": {"type": "point", "shape": "square", "filled": true, "color": "#ff0000", "size": 30, "opacity": 1, "clip": true},
     "encoding": {"x": {"field": "E", "type": "quantitative"}, "y": {"field": "v", "type": "quantitative"}}},
    {"data": {"name": "fit"}, "transform": [{"filter": "datum.c == 'glo'"}], "mark": {"type": "line", "color": "#1e1eff", "strokeWidth": 1.3, "interpolate": "monotone", "clip": true},
     "encoding": {"x": {"field": "E", "type": "quantitative"}, "y": {"field": "v", "type": "quantitative"}}},
    {"data": {"name": "fit"}, "transform": [{"filter": "datum.c == 'gauss'"}], "mark": {"type": "line", "color": "black", "strokeWidth": 1.2, "strokeDash": [5, 4], "interpolate": "monotone", "clip": true},
     "encoding": {"x": {"field": "E", "type": "quantitative"}, "y": {"field": "v", "type": "quantitative"}}},
    {"data": {"name": "fit"}, "transform": [{"filter": "datum.c == 'm1'"}], "mark": {"type": "line", "color": "#ff3030", "strokeWidth": 1.2, "strokeDash": [6, 5], "interpolate": "monotone", "clip": true},
     "encoding": {"x": {"field": "E", "type": "quantitative"}, "y": {"field": "v", "type": "quantitative"}}},
    {"data": {"name": "fit"}, "transform": [{"filter": "datum.c == 'total'"}], "mark": {"type": "line", "color": "#8b0000", "strokeWidth": 4.5, "interpolate": "monotone", "clip": true},
     "encoding": {"x": {"field": "E", "type": "quantitative"}, "y": {"field": "v", "type": "quantitative"}}},
    {"data": {"values": [{}]}, "mark": {"type": "rect", "fill": "#b2dfdb", "stroke": "#80c7c1", "strokeWidth": 1},
     "encoding": {"x": {"datum": 1.12, "type": "quantitative"}, "x2": {"datum": 2.55}, "y": {"datum": 1.33e-5, "type": "quantitative"}, "y2": {"datum": 7.33e-6}}},
    {"data": {"values": [{}]}, "mark": {"type": "point", "shape": "square", "filled": true, "color": "#12938f", "size": 12, "opacity": 1},
     "encoding": {"x": {"datum": 1.84, "type": "quantitative"}, "y": {"datum": 9.74e-6, "type": "quantitative"}}},
    {"data": {"values": [{}]}, "mark": {"type": "rect", "fill": "#fdb27f", "stroke": "#f5862f", "strokeWidth": 1},
     "encoding": {"x": {"datum": 1.12, "type": "quantitative"}, "x2": {"datum": 2.55}, "y": {"datum": 5.66e-6, "type": "quantitative"}, "y2": {"datum": 3.2e-6}}},
    {"data": {"values": [{}]}, "mark": {"type": "point", "shape": "triangle-up", "filled": true, "color": "#ff6600", "size": 45, "opacity": 1},
     "encoding": {"x": {"datum": 1.84, "type": "quantitative"}, "y": {"datum": 4.26e-6, "type": "quantitative"}}},
    {"data": {"values": [{}]}, "mark": {"type": "rule", "color": "#9ccbf6", "strokeWidth": 1.5},
     "encoding": {"x": {"datum": 1.84, "type": "quantitative"}, "y": {"datum": 2.35e-6, "type": "quantitative"}, "y2": {"datum": 1.44e-6}}},
    {"data": {"values": [{}]}, "mark": {"type": "tick", "orient": "horizontal", "color": "#9ccbf6", "size": 8, "thickness": 1.5},
     "encoding": {"x": {"datum": 1.84, "type": "quantitative"}, "y": {"datum": 2.35e-6, "type": "quantitative"}}},
    {"data": {"values": [{}]}, "mark": {"type": "tick", "orient": "horizontal", "color": "#9ccbf6", "size": 8, "thickness": 1.5},
     "encoding": {"x": {"datum": 1.84, "type": "quantitative"}, "y": {"datum": 1.44e-6, "type": "quantitative"}}},
    {"data": {"values": [{}]}, "mark": {"type": "point", "shape": "square", "filled": true, "color": "#99c9f7", "size": 30, "opacity": 1},
     "encoding": {"x": {"datum": 1.84, "type": "quantitative"}, "y": {"datum": 1.86e-6, "type": "quantitative"}}},
    {"data": {"values": [{}]}, "mark": {"type": "rule", "color": "#ff5a5a", "strokeWidth": 1.5},
     "encoding": {"x": {"datum": 1.84, "type": "quantitative"}, "y": {"datum": 1.05e-6, "type": "quantitative"}, "y2": {"datum": 6.28e-7}}},
    {"data": {"values": [{}]}, "mark": {"type": "tick", "orient": "horizontal", "color": "#ff5a5a", "size": 8, "thickness": 1.5},
     "encoding": {"x": {"datum": 1.84, "type": "quantitative"}, "y": {"datum": 1.05e-6, "type": "quantitative"}}},
    {"data": {"values": [{}]}, "mark": {"type": "tick", "orient": "horizontal", "color": "#ff5a5a", "size": 8, "thickness": 1.5},
     "encoding": {"x": {"datum": 1.84, "type": "quantitative"}, "y": {"datum": 6.28e-7, "type": "quantitative"}}},
    {"data": {"values": [{}]}, "mark": {"type": "point", "shape": "square", "filled": true, "color": "#ff0000", "size": 30, "opacity": 1},
     "encoding": {"x": {"datum": 1.84, "type": "quantitative"}, "y": {"datum": 8.13e-7, "type": "quantitative"}}},
    {"data": {"values": [{}]}, "mark": {"type": "text", "align": "left", "baseline": "middle", "fontSize": 24, "text": "¹¹²Sn, present data"},
     "encoding": {"x": {"datum": 2.834, "type": "quantitative"}, "y": {"datum": 9.74e-6, "type": "quantitative"}}},
    {"data": {"values": [{}]}, "mark": {"type": "text", "align": "left", "baseline": "middle", "fontSize": 24, "text": "¹¹²Sn, Bassauer et al. 2020"},
     "encoding": {"x": {"datum": 2.834, "type": "quantitative"}, "y": {"datum": 4.26e-6, "type": "quantitative"}}},
    {"data": {"values": [{}]}, "mark": {"type": "text", "align": "left", "baseline": "middle", "fontSize": 24, "text": "¹¹²Sn, Varlamov et al. 2009"},
     "encoding": {"x": {"datum": 2.834, "type": "quantitative"}, "y": {"datum": 1.86e-6, "type": "quantitative"}}},
    {"data": {"values": [{}]}, "mark": {"type": "text", "align": "left", "baseline": "middle", "fontSize": 24, "text": "M1, ¹¹²Sn, Bassauer et al. 2020"},
     "encoding": {"x": {"datum": 2.99, "type": "quantitative"}, "y": {"datum": 8.13e-7, "type": "quantitative"}}},
    {"data": {"values": [{}]}, "mark": {"type": "text", "align": "right", "baseline": "alphabetic", "fontSize": 35, "text": "¹¹²Sn"},
     "encoding": {"x": {"datum": 14.1, "type": "quantitative"}, "y": {"datum": 8.1e-6, "type": "quantitative"}}},
    {"data": {"values": [{}]}, "mark": {"type": "text", "align": "center", "baseline": "alphabetic", "fontSize": 29, "text": "(b)"},
     "encoding": {"x": {"datum": 13.7, "type": "quantitative"}, "y": {"datum": 4.9e-9, "type": "quantitative"}}}
  ]
},
{
  "width": 551, "height": 338,
  "layer": [
    {"data": {"name": "bass"}, "mark": {"type": "area", "fill": "#fdb27f", "stroke": "#f7964f", "strokeWidth": 1, "clip": true},
     "encoding": {
       "x": {"field": "E", "type": "quantitative", "scale": {"domain": [0, 14.5], "nice": false, "zero": false},
             "axis": {"values": [0,0.5,1,1.5,2,2.5,3,3.5,4,4.5,5,5.5,6,6.5,7,7.5,8,8.5,9,9.5,10,10.5,11,11.5,12,12.5,13,13.5,14],
                      "labelExpr": "datum.value % 2 == 0 ? format(datum.value, 'd') : ''", "labelFontSize": 25, "labelPadding": 9, "labelFlush": false, "labelOverlap": false,
                      "title": "γ-ray energy Eᵧ (MeV)", "titleFontSize": 24, "titleY": 37, "tickSize": 0,
                      "encode": {"ticks": {"update": {"y2": {"signal": "datum.value % 2 == 0 ? -13 : -7"}}}}}},
       "y": {"field": "lo", "type": "quantitative", "scale": {"type": "log", "domain": [2.6e-9, 2.74e-5], "nice": false},
             "axis": {"title": "γ-ray strength function (MeV⁻³)", "titleFontSize": 21, "titleX": -69, "titleBaseline": "middle",
                      "values": [3e-9,4e-9,5e-9,6e-9,7e-9,8e-9,9e-9,1e-8,2e-8,3e-8,4e-8,5e-8,6e-8,7e-8,8e-8,9e-8,1e-7,2e-7,3e-7,4e-7,5e-7,6e-7,7e-7,8e-7,9e-7,1e-6,2e-6,3e-6,4e-6,5e-6,6e-6,7e-6,8e-6,9e-6,1e-5,2e-5],
                      "labelExpr": "abs(log(datum.value)/LN10 - round(log(datum.value)/LN10)) < 0.01 ? (round(log(datum.value)/LN10) == -5 ? '10⁻⁵' : round(log(datum.value)/LN10) == -6 ? '10⁻⁶' : round(log(datum.value)/LN10) == -7 ? '10⁻⁷' : '10⁻⁸') : ''",
                      "labelFontSize": 26, "labelPadding": 5, "labelOverlap": false, "tickSize": 0,
                      "encode": {"ticks": {"update": {"x2": {"signal": "abs(log(datum.value)/LN10 - round(log(datum.value)/LN10)) < 0.01 ? 13 : 7"}}}}}},
       "y2": {"field": "hi"}
     }},
    {"data": {"name": "bass"}, "mark": {"type": "point", "shape": "triangle-up", "filled": true, "color": "#ff6600", "size": 45, "opacity": 1, "clip": true},
     "encoding": {"x": {"field": "E", "type": "quantitative"}, "y": {"field": "v", "type": "quantitative"}}},
    {"data": {"name": "b113"}, "mark": {"type": "area", "fill": "#7f9ff5", "opacity": 0.5, "interpolate": "monotone", "clip": true},
     "encoding": {"x": {"field": "E", "type": "quantitative"}, "y": {"field": "lo", "type": "quantitative"}, "y2": {"field": "hi"}}},
    {"data": {"name": "p113"}, "mark": {"type": "point", "shape": "square", "filled": true, "color": "#0a3cff", "size": 14, "opacity": 1, "clip": true},
     "encoding": {"x": {"field": "E", "type": "quantitative"}, "y": {"field": "v", "type": "quantitative"}}},
    {"data": {"name": "m1"}, "mark": {"type": "rule", "color": "#ff5a5a", "strokeWidth": 1.5, "clip": true},
     "encoding": {"x": {"field": "E", "type": "quantitative"}, "y": {"field": "lo", "type": "quantitative"}, "y2": {"field": "hi"}}},
    {"data": {"name": "m1"}, "mark": {"type": "tick", "orient": "horizontal", "color": "#ff5a5a", "size": 7, "thickness": 1.5, "clip": true},
     "encoding": {"x": {"field": "E", "type": "quantitative"}, "y": {"field": "lo", "type": "quantitative"}}},
    {"data": {"name": "m1"}, "mark": {"type": "tick", "orient": "horizontal", "color": "#ff5a5a", "size": 7, "thickness": 1.5, "clip": true},
     "encoding": {"x": {"field": "E", "type": "quantitative"}, "y": {"field": "hi", "type": "quantitative"}}},
    {"data": {"name": "m1"}, "mark": {"type": "point", "shape": "square", "filled": true, "color": "#ff0000", "size": 30, "opacity": 1, "clip": true},
     "encoding": {"x": {"field": "E", "type": "quantitative"}, "y": {"field": "v", "type": "quantitative"}}},
    {"data": {"name": "fit"}, "transform": [{"filter": "datum.c == 'glo'"}], "mark": {"type": "line", "color": "#1e1eff", "strokeWidth": 1.3, "interpolate": "monotone", "clip": true},
     "encoding": {"x": {"field": "E", "type": "quantitative"}, "y": {"field": "v", "type": "quantitative"}}},
    {"data": {"name": "fit"}, "transform": [{"filter": "datum.c == 'gauss'"}], "mark": {"type": "line", "color": "black", "strokeWidth": 1.2, "strokeDash": [5, 4], "interpolate": "monotone", "clip": true},
     "encoding": {"x": {"field": "E", "type": "quantitative"}, "y": {"field": "v", "type": "quantitative"}}},
    {"data": {"name": "fit"}, "transform": [{"filter": "datum.c == 'm1'"}], "mark": {"type": "line", "color": "#ff3030", "strokeWidth": 1.2, "strokeDash": [6, 5], "interpolate": "monotone", "clip": true},
     "encoding": {"x": {"field": "E", "type": "quantitative"}, "y": {"field": "v", "type": "quantitative"}}},
    {"data": {"name": "fit"}, "transform": [{"filter": "datum.c == 'total'"}], "mark": {"type": "line", "color": "#8b0000", "strokeWidth": 3.2, "interpolate": "monotone", "clip": true},
     "encoding": {"x": {"field": "E", "type": "quantitative"}, "y": {"field": "v", "type": "quantitative"}}},
    {"data": {"values": [{}]}, "mark": {"type": "rect", "fill": "#bfcffa", "stroke": "#8ea9f3", "strokeWidth": 1},
     "encoding": {"x": {"datum": 1.12, "type": "quantitative"}, "x2": {"datum": 2.55}, "y": {"datum": 1.245e-5, "type": "quantitative"}, "y2": {"datum": 6.45e-6}}},
    {"data": {"values": [{}]}, "mark": {"type": "point", "shape": "square", "filled": true, "color": "#0a3cff", "size": 14, "opacity": 1},
     "encoding": {"x": {"datum": 1.84, "type": "quantitative"}, "y": {"datum": 8.96e-6, "type": "quantitative"}}},
    {"data": {"values": [{}]}, "mark": {"type": "rect", "fill": "#fdb27f", "stroke": "#f5862f", "strokeWidth": 1},
     "encoding": {"x": {"datum": 1.12, "type": "quantitative"}, "x2": {"datum": 2.55}, "y": {"datum": 4.9e-6, "type": "quantitative"}, "y2": {"datum": 2.47e-6}}},
    {"data": {"values": [{}]}, "mark": {"type": "point", "shape": "triangle-up", "filled": true, "color": "#ff6600", "size": 45, "opacity": 1},
     "encoding": {"x": {"datum": 1.84, "type": "quantitative"}, "y": {"datum": 3.53e-6, "type": "quantitative"}}},
    {"data": {"values": [{}]}, "mark": {"type": "rule", "color": "#ff5a5a", "strokeWidth": 1.5},
     "encoding": {"x": {"datum": 1.84, "type": "quantitative"}, "y": {"datum": 1.83e-6, "type": "quantitative"}, "y2": {"datum": 1.0e-6}}},
    {"data": {"values": [{}]}, "mark": {"type": "tick", "orient": "horizontal", "color": "#ff5a5a", "size": 8, "thickness": 1.5},
     "encoding": {"x": {"datum": 1.84, "type": "quantitative"}, "y": {"datum": 1.83e-6, "type": "quantitative"}}},
    {"data": {"values": [{}]}, "mark": {"type": "tick", "orient": "horizontal", "color": "#ff5a5a", "size": 8, "thickness": 1.5},
     "encoding": {"x": {"datum": 1.84, "type": "quantitative"}, "y": {"datum": 1.0e-6, "type": "quantitative"}}},
    {"data": {"values": [{}]}, "mark": {"type": "point", "shape": "square", "filled": true, "color": "#ff0000", "size": 30, "opacity": 1},
     "encoding": {"x": {"datum": 1.84, "type": "quantitative"}, "y": {"datum": 1.35e-6, "type": "quantitative"}}},
    {"data": {"values": [{}]}, "mark": {"type": "text", "align": "left", "baseline": "middle", "fontSize": 24, "text": "¹¹³Sn, present data"},
     "encoding": {"x": {"datum": 2.86, "type": "quantitative"}, "y": {"datum": 8.96e-6, "type": "quantitative"}}},
    {"data": {"values": [{}]}, "mark": {"type": "text", "align": "left", "baseline": "middle", "fontSize": 24, "text": "¹¹²Sn, Bassauer et al. 2020"},
     "encoding": {"x": {"datum": 2.86, "type": "quantitative"}, "y": {"datum": 3.53e-6, "type": "quantitative"}}},
    {"data": {"values": [{}]}, "mark": {"type": "text", "align": "left", "baseline": "middle", "fontSize": 24, "text": "M1, ¹¹²Sn, Bassauer et al. 2020"},
     "encoding": {"x": {"datum": 2.99, "type": "quantitative"}, "y": {"datum": 1.35e-6, "type": "quantitative"}}},
    {"data": {"values": [{}]}, "mark": {"type": "text", "align": "right", "baseline": "alphabetic", "fontSize": 35, "text": "¹¹³Sn"},
     "encoding": {"x": {"datum": 14.1, "type": "quantitative"}, "y": {"datum": 8.1e-6, "type": "quantitative"}}},
    {"data": {"values": [{}]}, "mark": {"type": "text", "align": "center", "baseline": "alphabetic", "fontSize": 29, "text": "(c)"},
     "encoding": {"x": {"datum": 13.7, "type": "quantitative"}, "y": {"datum": 4.9e-9, "type": "quantitative"}}}
  ]
}
]
}
